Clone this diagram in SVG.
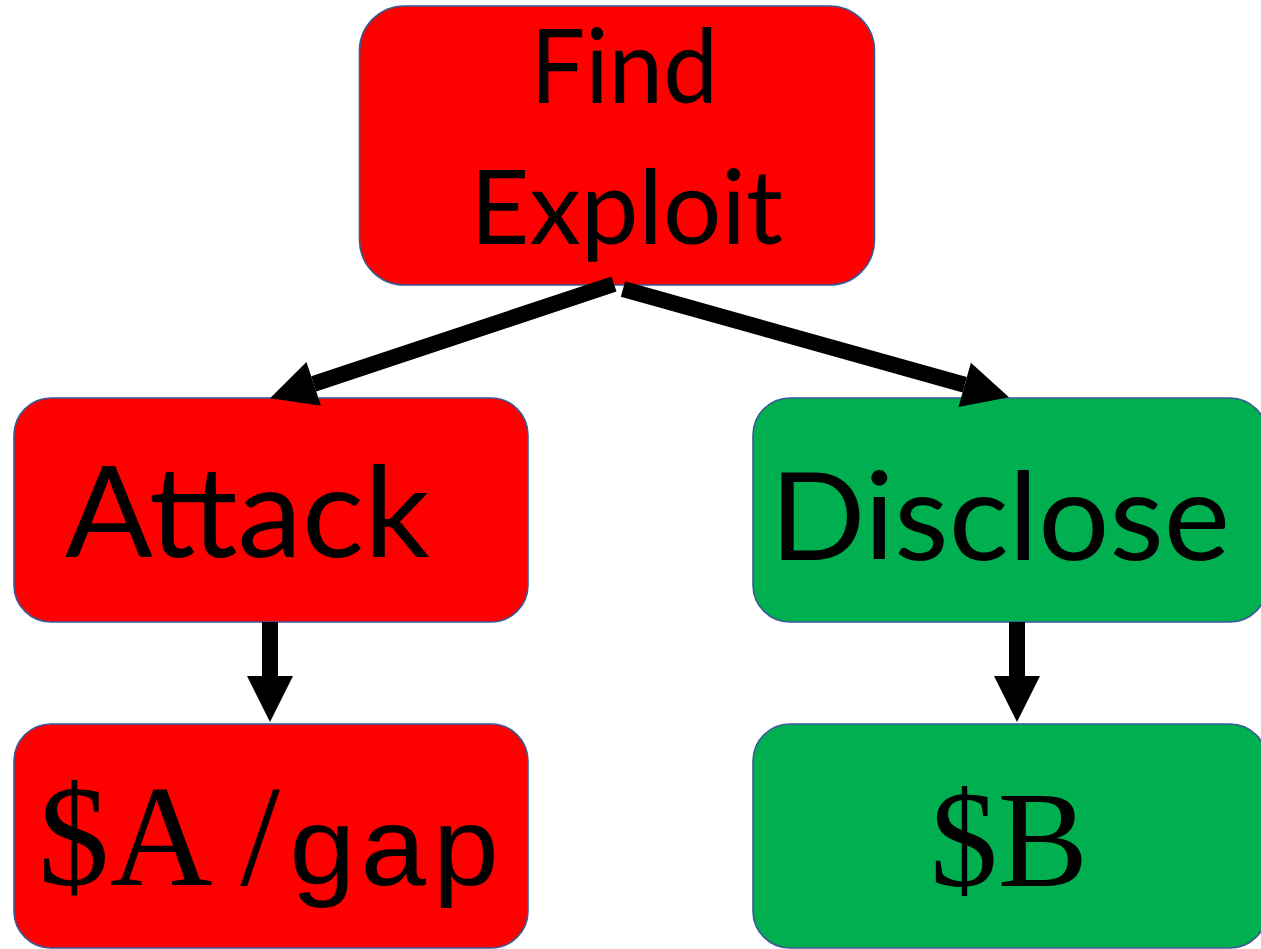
<svg xmlns="http://www.w3.org/2000/svg" width="1261" height="949" viewBox="0 0 1261 949">
  <style>
    .box { stroke: #3A5A96; stroke-width: 1.6; }
    .red { fill: #FF0000; }
    .green { fill: #00B050; }
    .sans { font-family: Lato, "Open Sans", "Liberation Sans", sans-serif; fill: #000; }
    .serif { font-family: "Liberation Serif", "DejaVu Serif", serif; fill: #000; }
    .mono { font-family: "Liberation Mono", "DejaVu Sans Mono", monospace; fill: #000; }
    .shaft { stroke: #000; fill: none; stroke-linecap: butt; stroke-width: 16; }
  </style>
  <defs>
    <marker id="head" markerUnits="userSpaceOnUse" markerWidth="46" markerHeight="46" refX="0" refY="23" orient="auto" overflow="visible">
      <path d="M0,0 L46,23 L0,46 Z" fill="#000"/>
    </marker>
  </defs>
  <rect width="1261" height="949" fill="#FFFFFF"/>

  <g id="find-exploit">
    <rect class="box red" x="359.5" y="6" width="515" height="279" rx="45" ry="45"/>
    <text class="sans" x="530" y="103" font-size="102" textLength="188" lengthAdjust="spacingAndGlyphs">Find</text>
    <text class="sans" x="470" y="244" font-size="102" textLength="313" lengthAdjust="spacingAndGlyphs">Exploit</text>
  </g>

  <g id="attack">
    <rect class="box red" x="14" y="398" width="514" height="224" rx="37" ry="37"/>
    <text class="sans" x="65" y="557" font-size="127" textLength="365" lengthAdjust="spacingAndGlyphs">Attack</text>
  </g>

  <g id="disclose">
    <rect class="box green" x="753" y="398" width="514" height="224" rx="37" ry="37"/>
    <text class="sans" x="770" y="560" font-size="123" textLength="460" lengthAdjust="spacingAndGlyphs">Disclose</text>
  </g>

  <g id="payoff-a">
    <rect class="box red" x="14" y="724" width="514" height="224" rx="37" ry="37"/>
    <text class="serif" x="38" y="885" font-size="143" textLength="242" lengthAdjust="spacingAndGlyphs">$A /</text>
    <text class="mono" x="286" y="885" font-size="112" textLength="216" lengthAdjust="spacingAndGlyphs">gap</text>
  </g>

  <g id="payoff-b">
    <rect class="box green" x="753" y="724" width="514" height="224" rx="37" ry="37"/>
    <text class="serif" x="930" y="886" font-size="138" textLength="158" lengthAdjust="spacingAndGlyphs">$B</text>
  </g>

  <g id="connectors">
    <line class="shaft" x1="614" y1="284" x2="313.7" y2="383.8" marker-end="url(#head)"/>
    <line class="shaft" x1="623" y1="289" x2="964.7" y2="384.8" marker-end="url(#head)"/>
    <line class="shaft" x1="270" y1="622" x2="270" y2="676" marker-end="url(#head)"/>
    <line class="shaft" x1="1017" y1="622" x2="1017" y2="676" marker-end="url(#head)"/>
  </g>
</svg>
